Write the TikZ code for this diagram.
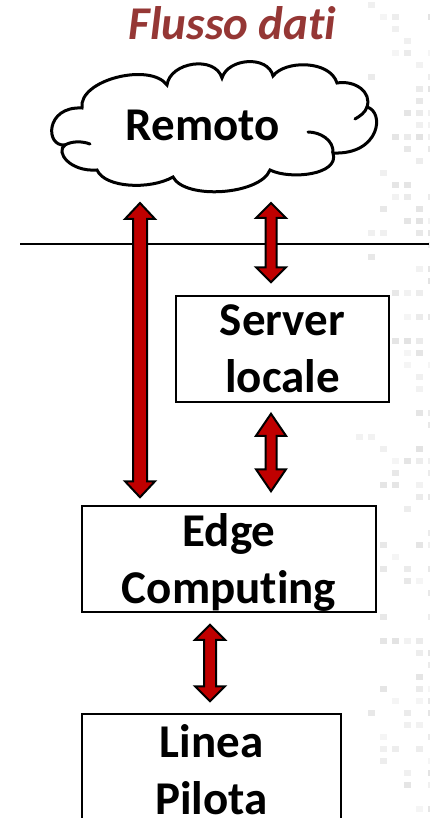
\documentclass[tikz,border=0pt]{standalone}
\usepackage{fontspec}
\setmainfont[Ligatures=NoCommon]{Carlito}
\usetikzlibrary{calc}
\definecolor{titlered}{HTML}{953735}
\definecolor{arrowred}{HTML}{C00000}
\newcommand\blockarrow[5]{%
  \draw[barrow] (#1) -- ($(#1)+(#4,#5)$) -- ($(#1)+(#3,#5)$) -- ($(#2)+(#3,-#5)$)
   -- ($(#2)+(#4,-#5)$) -- (#2) -- ($(#2)+(-#4,-#5)$) -- ($(#2)+(-#3,-#5)$)
   -- ($(#1)+(-#3,#5)$) -- ($(#1)+(-#4,#5)$) -- cycle;}
\begin{document}
\begin{tikzpicture}[x=1pt,y=-1pt,
  box/.style={draw=black, line width=1.5pt, fill=white, inner sep=0pt, align=center,
    text depth=0pt, font=\fontsize{47}{57}\selectfont\bfseries},
  lbl/.style={inner sep=0pt, font=\fontsize{47}{57}\selectfont\bfseries},
  titlestyle/.style={inner sep=0pt, text=titlered, font=\fontsize{47}{52}\selectfont\bfseries\itshape},
  barrow/.style={draw=black, line width=2pt, fill=arrowred, line join=miter},
  cloudline/.style={draw=black, line width=3pt, line cap=round}]
\useasboundingbox (0,0) rectangle (429,818);
% faint decorative pattern on the right
\pgfmathsetseed{7}
\foreach \cx in {356,368,...,428} {
  \foreach \cy in {2,14,...,818} {
    \pgfmathsetmacro\r{rnd}
    \pgfmathsetmacro\th{(\cx-350)/160}
    \pgfmathtruncatemacro\g{4+rnd*8}
    \ifdim\r pt<\th pt \fill[black!\g] (\cx,\cy) rectangle ++(7,6); \fi
  }
}
% title
\node[titlestyle, anchor=base] (title) at (232.5,40) {Flusso dati};
% horizontal separator
\coordinate (sepL) at (20,244);
\coordinate (sepR) at (429,244);
\draw[line width=1.5pt] (sepL) -- (sepR);
% cloud
\draw[cloudline, fill=white]
  (65,145) .. controls (45,147) and (45,106) .. (82,108)
  .. controls (78,80) and (150,62) .. (167,85)
  .. controls (170,62) and (215,55) .. (222,78)
  .. controls (228,58) and (268,55) .. (273,76)
  .. controls (285,60) and (330,60) .. (337,83)
  .. controls (355,80) and (372,92) .. (367,107)
  .. controls (385,112) and (380,155) .. (333,153)
  .. controls (340,175) and (290,180) .. (270,170)
  .. controls (260,195) and (185,200) .. (173,177)
  .. controls (150,190) and (105,188) .. (97,170)
  .. controls (70,172) and (55,152) .. (65,145) -- cycle;
\draw[cloudline] (65,145) .. controls (72,141) and (82,141) .. (90,144);
\draw[cloudline] (367,107) .. controls (365,113) and (360,116) .. (355,119);
\draw[cloudline] (333,153) .. controls (334,140) and (320,132) .. (308,132);
\node[lbl, anchor=base] (cloud) at (203,141) {Remoto};
% boxes
\node[box, minimum width=213, minimum height=106] (server) at (282.5,349) {Server\\locale};
\node[box, minimum width=294, minimum height=106] (edge) at (229,559) {Edge\\Computing};
\node[box, minimum width=259, minimum height=112] (linea) at (211.5,770) {Linea\\Pilota};
% arrow end points
\coordinate (xa) at (140,0);
\coordinate (xb) at (271,0);
\coordinate (xc) at (210,0);
\coordinate (a1t) at (140,203);
\coordinate (a1b) at ($(edge.north -| xa)+(0,-8)$);
\coordinate (a2t) at (271,203);
\coordinate (a2b) at ($(server.north -| xb)+(0,-13)$);
\coordinate (a3t) at ($(server.south -| xb)+(0,11)$);
\coordinate (a3b) at ($(edge.north -| xb)+(0,-14)$);
\coordinate (a4t) at ($(edge.south -| xc)+(0,12)$);
\coordinate (a4b) at ($(linea.north -| xc)+(0,-12)$);
\blockarrow{a1t}{a1b}{7}{15}{16}
\blockarrow{a2t}{a2b}{5.5}{15}{15}
\blockarrow{a3t}{a3b}{5.5}{15}{22}
\blockarrow{a4t}{a4b}{6}{15}{15}
\end{tikzpicture}
\end{document}
